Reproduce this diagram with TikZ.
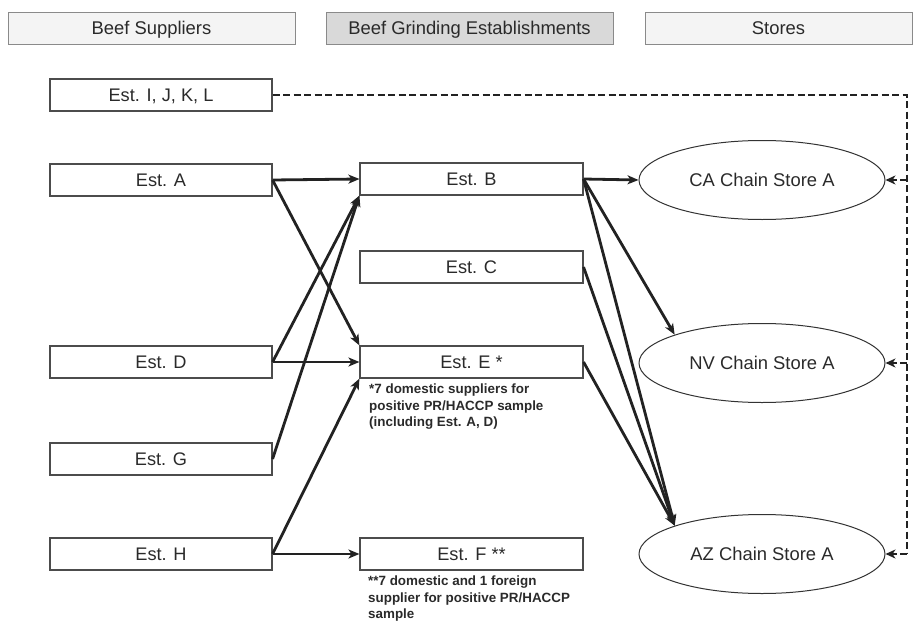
\documentclass[tikz,border=0pt]{standalone}
\usepackage{fontspec}
\setmainfont{Liberation Sans}
\usepackage{xcolor}
\usetikzlibrary{arrows.meta, shapes.geometric, positioning}
\definecolor{inkgray}{HTML}{222222}
\definecolor{txtgray}{HTML}{2A2A2A}
\definecolor{edgegray}{HTML}{8A8A8A}
\definecolor{headfill}{HTML}{D9D9D9}
\definecolor{lightfill}{HTML}{F4F4F4}
\tikzset{
header/.style={draw=edgegray, line width=1pt, minimum width=287pt, minimum height=32pt, inner sep=0pt, text height=16pt, text depth=2.8pt, text=txtgray, font=\fontsize{18.4}{21}\selectfont},
estbox/.style={draw=black!70, line width=1.1pt, minimum width=222pt, minimum height=32pt, inner sep=0pt, text height=16pt, text depth=2.8pt, text=txtgray, font=\fontsize{18.2}{21}\selectfont},
store/.style={ellipse, draw=black!80, line width=1pt, minimum width=246pt, minimum height=79pt, inner sep=0pt, text height=16pt, text depth=2.8pt, text=txtgray, font=\fontsize{18.4}{21}\selectfont},
note/.style={anchor=north west, align=left, inner sep=0pt, text=txtgray, font=\fontsize{13.4}{16.5}\selectfont\bfseries},
flow/.style={draw=inkgray, line width=2.8pt, -{Stealth[length=11pt, width=9pt, inset=3pt]}},
dashline/.style={draw=inkgray, line width=2.7pt, dash pattern=on 7pt off 3.5pt},
}

\begin{document}
\begin{tikzpicture}[x=1pt, y=-1pt]
 \useasboundingbox (0,0) rectangle (919,621);

 % column headers
 \node[header, fill=lightfill] (hsup) at (151.5,28) {Beef Suppliers};
 \node[header, fill=headfill] (hgrind) at (469.5,28) {Beef Grinding Establishments};
 \node[header, fill=lightfill, minimum width=267pt] (hstore) at (778.5,28) {Stores};

 % suppliers
 \node[estbox] (estI) at (161,95) {Est. I, J, K, L};
 \node[estbox] (estA) at (161,180) {Est. A};
 \node[estbox] (estD) at (161,362) {Est. D};
 \node[estbox] (estG) at (161,459) {Est. G};
 \node[estbox] (estH) at (161,554) {Est. H};

 % grinding establishments
 \node[estbox, minimum width=223pt] (estB) at (471.5,179) {Est. B};
 \node[estbox, minimum width=223pt] (estC) at (471.5,267) {Est. C};
 \node[estbox, minimum width=223pt] (estE) at (471.5,362) {Est. E *};
 \node[estbox, minimum width=223pt] (estF) at (471.5,554) {Est. F **};

 \node[note] (noteE) at (369,384) {*7 domestic suppliers for\\positive PR/HACCP sample\\(including Est. A, D)};
 \node[note] (noteF) at (368,576) {**7 domestic and 1 foreign\\supplier for positive PR/HACCP\\sample};

 % stores
 \node[store] (storeCA) at (762,180) {CA Chain Store A};
 \node[store] (storeNV) at (762,363) {NV Chain Store A};
 \node[store] (storeAZ) at (762,554) {AZ Chain Store A};

 % suppliers to establishments
 \draw[flow] (estA.east) -- (estB.west);
 \draw[flow] (estA.east) -- (estE.north west);
 \draw[flow] (estD.east) -- (estB.south west);
 \draw[flow] (estD.east) -- (estE.west);
 \draw[flow] (estG.east) -- (estB.south west);
 \draw[flow] (estH.east) -- (estE.south west);
 \draw[flow] (estH.east) -- (estF.west);

 % establishments to stores
 \draw[flow] (estB.east) -- (storeCA.west);
 \draw[flow] (estB.east) -- (storeNV.north west);
 \draw[flow] (estB.east) -- (storeAZ.north west);
 \draw[flow] (estC.east) -- (storeAZ.north west);
 \draw[flow] (estE.east) -- (storeAZ.north west);

 % dashed link
 \coordinate (dtop) at (907,95);
 \coordinate (dbot) at (907,554);
 \draw[dashline] (estI.east) -- (dtop) -- (dbot);
 \draw[dashline, -{Stealth[length=10pt, width=9pt, inset=3pt]}] (dtop |- storeCA.east) -- (storeCA.east);
 \draw[dashline, -{Stealth[length=10pt, width=9pt, inset=3pt]}] (dtop |- storeNV.east) -- (storeNV.east);
 \draw[dashline, -{Stealth[length=10pt, width=9pt, inset=3pt]}] (dbot) -- (storeAZ.east);

\end{tikzpicture}
\end{document}
